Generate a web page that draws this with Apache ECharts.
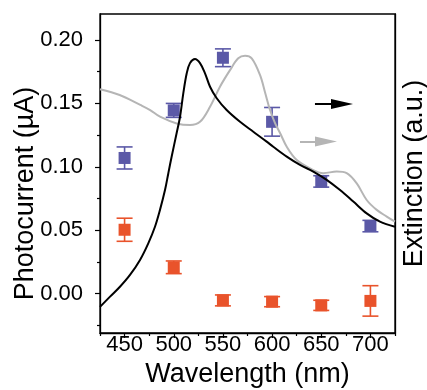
<!DOCTYPE html>
<html>
<head>
<meta charset="utf-8">
<script src="https://cdn.jsdelivr.net/npm/echarts@6/dist/echarts.min.js"></script>
<style>
html,body{margin:0;padding:0;background:#fff;}
#chart{width:427px;height:390px;}
</style>
</head>
<body>
<div id="chart"></div>
<script>
// ---- data ----
var wavelengths = [450, 500, 550, 600, 650, 700];
var bluePc  = [0.107, 0.1445, 0.186, 0.1355, 0.0885, 0.0533];
var blueErr = [0.0087, 0.0055, 0.007, 0.0113, 0.0045, 0.0045];
var orangePc  = [0.0504, 0.0208, -0.0053, -0.0063, -0.0092, -0.0057];
var orangeErr = [0.0091, 0.005, 0.0043, 0.004, 0.004, 0.012];

var blackWl  = [425, 435.2, 445.3, 455.5, 465.7, 474.1, 480.9, 486, 491.1, 494.5, 498, 502.9, 506.4, 509.7, 513.2, 516.5, 521.6, 526.7, 531.8, 536.9, 543.7, 553.8, 567.4, 580.9, 594.5, 601.2, 614.9, 628.4, 641.9, 655.5, 669.1, 682.6, 696.2, 709.7, 725];
var blackExt = [0.082, 0.114, 0.145, 0.182, 0.229, 0.281, 0.333, 0.386, 0.448, 0.501, 0.555, 0.626, 0.678, 0.751, 0.814, 0.846, 0.859, 0.846, 0.814, 0.772, 0.736, 0.699, 0.662, 0.631, 0.600, 0.584, 0.553, 0.527, 0.506, 0.480, 0.448, 0.412, 0.375, 0.349, 0.333];

var grayWl  = [425, 445, 466, 476, 486, 503, 516.5, 526.7, 536.9, 547, 557.2, 565.6, 572.5, 579.3, 587.7, 592.8, 597.9, 603, 608.1, 614.9, 625.1, 638.6, 652.1, 665.7, 675.9, 686.1, 696.2, 706.4, 716.6, 725];
var grayExt = [0.764, 0.746, 0.715, 0.699, 0.678, 0.657, 0.652, 0.662, 0.709, 0.772, 0.824, 0.861, 0.869, 0.861, 0.809, 0.755, 0.699, 0.658, 0.627, 0.584, 0.542, 0.516, 0.501, 0.506, 0.501, 0.469, 0.417, 0.386, 0.365, 0.349];

// arrows (extinction units) pointing to the right axis; "to" is the arrowhead centre
var blackArrow = {y: 0.718, from: 643.6, to: 671.1};
var grayArrow  = {y: 0.600, from: 628.4, to: 654.8};

var xMajor = [450, 500, 550, 600, 650, 700];
var xMinor = [425, 475, 525, 575, 625, 675, 725];
var yMajor = [0.00, 0.05, 0.10, 0.15, 0.20];
var yMinor = [-0.025, 0.025, 0.075, 0.125, 0.175];

var FONT = "'Liberation Sans', Arial, sans-serif";
var BLUE = '#5b59a7';
var ORANGE = '#e9532b';

function zip(xs, ys) { return xs.map(function (x, i) { return [x, ys[i]]; }); }
function errData(ys, es) { return wavelengths.map(function (x, i) { return [x, ys[i], es[i]]; }); }

function errRender(color) {
  return function (params, api) {
    var x = api.value(0), y = api.value(1), e = api.value(2);
    var top = api.coord([x, y + e]);
    var bot = api.coord([x, y - e]);
    var hw = 8;
    var st = {stroke: color, lineWidth: 1.6};
    return {
      type: 'group',
      children: [
        {type: 'line', shape: {x1: top[0], y1: top[1], x2: bot[0], y2: bot[1]}, style: st},
        {type: 'line', shape: {x1: top[0] - hw, y1: top[1], x2: top[0] + hw, y2: top[1]}, style: st},
        {type: 'line', shape: {x1: bot[0] - hw, y1: bot[1], x2: bot[0] + hw, y2: bot[1]}, style: st}
      ]
    };
  };
}

function arrowMark(a, color) {
  return {
    silent: true,
    symbol: ['none', 'triangle'],
    symbolSize: [10, 22],
    label: {show: false},
    lineStyle: {color: color, width: 2, type: 'solid'},
    emphasis: {disabled: true},
    data: [[{coord: [a.from, a.y]}, {coord: [a.to, a.y]}]]
  };
}

var chart = echarts.init(document.getElementById('chart'), null, {renderer: 'canvas'});
chart.setOption({
  animation: false,
  backgroundColor: '#fff',
  grid: {left: 100, right: 32, top: 14, bottom: 57, show: true, borderColor: '#000', borderWidth: 1.3, containLabel: false, outerBoundsMode: 'none'},
  xAxis: [{
    type: 'value', min: 425, max: 725, position: 'bottom',
    axisLine: {show: true, onZero: false, lineStyle: {color: '#000', width: 1.3}},
    axisTick: {show: true, customValues: xMajor, length: 5, inside: false, lineStyle: {color: '#000', width: 1.2}},
    axisLabel: {show: true, customValues: xMajor, margin: 1, fontFamily: FONT, fontSize: 22, color: '#000'},
    splitLine: {show: false},
    name: 'Wavelength (nm)', nameLocation: 'middle', nameGap: 28, nameMoveOverlap: false,
    nameTextStyle: {fontFamily: FONT, fontSize: 27, color: '#000'}
  }, {
    type: 'value', min: 425, max: 725, position: 'bottom',
    axisLine: {show: false, onZero: false},
    axisTick: {show: true, customValues: xMinor, length: 3, lineStyle: {color: '#000', width: 1.2}},
    axisLabel: {show: false},
    splitLine: {show: false}
  }],
  yAxis: [{
    type: 'value', min: -0.031, max: 0.2205, position: 'left',
    axisLine: {show: true, onZero: false, lineStyle: {color: '#000', width: 1.3}},
    axisTick: {show: true, customValues: yMajor, length: 5, lineStyle: {color: '#000', width: 1.2}},
    axisLabel: {show: true, customValues: yMajor, margin: 17, fontFamily: FONT, fontSize: 22, color: '#000',
      formatter: function (v) { return v.toFixed(2); }},
    splitLine: {show: false},
    name: 'Photocurrent (\u00b5A)', nameLocation: 'middle', nameGap: 61, nameRotate: 90, nameMoveOverlap: false,
    nameTextStyle: {fontFamily: FONT, fontSize: 27, color: '#000', padding: [0, 40, 0, 0]}
  }, {
    type: 'value', min: -0.031, max: 0.2205, position: 'left',
    axisLine: {show: false, onZero: false},
    axisTick: {show: true, customValues: yMinor, length: 3, lineStyle: {color: '#000', width: 1.2}},
    axisLabel: {show: false},
    splitLine: {show: false}
  }, {
    type: 'value', min: 0, max: 1, position: 'right',
    axisLine: {show: true, onZero: false, lineStyle: {color: '#000', width: 1.3}},
    axisTick: {show: false},
    axisLabel: {show: false},
    splitLine: {show: false},
    name: 'Extinction (a.u.)', nameLocation: 'middle', nameGap: 6, nameRotate: 90, nameMoveOverlap: false,
    nameTextStyle: {fontFamily: FONT, fontSize: 27, color: '#000'}
  }],
  series: [
    {
      name: 'blueErr', type: 'custom', xAxisIndex: 0, yAxisIndex: 0, clip: false, silent: true, z: 3,
      renderItem: errRender(BLUE), encode: {x: 0, y: 1}, data: errData(bluePc, blueErr)
    },
    {
      name: 'orangeErr', type: 'custom', xAxisIndex: 0, yAxisIndex: 0, clip: false, silent: true, z: 3,
      renderItem: errRender(ORANGE), encode: {x: 0, y: 1}, data: errData(orangePc, orangeErr)
    },
    {
      name: 'blue', type: 'scatter', xAxisIndex: 0, yAxisIndex: 0, symbol: 'rect', symbolSize: 12, z: 4,
      itemStyle: {color: BLUE, opacity: 1}, data: zip(wavelengths, bluePc)
    },
    {
      name: 'orange', type: 'scatter', xAxisIndex: 0, yAxisIndex: 0, symbol: 'rect', symbolSize: 12, z: 4,
      itemStyle: {color: ORANGE, opacity: 1}, data: zip(wavelengths, orangePc)
    },
    {
      name: 'gray', type: 'line', xAxisIndex: 0, yAxisIndex: 2, showSymbol: false, smooth: 0.35, z: 5,
      lineStyle: {color: '#b5b5b5', width: 2}, data: zip(grayWl, grayExt),
      markLine: arrowMark(grayArrow, '#b5b5b5')
    },
    {
      name: 'black', type: 'line', xAxisIndex: 0, yAxisIndex: 2, showSymbol: false, smooth: 0.35, z: 6,
      lineStyle: {color: '#000', width: 2}, data: zip(blackWl, blackExt),
      markLine: arrowMark(blackArrow, '#000')
    }
  ]
});
</script>
</body>
</html>
